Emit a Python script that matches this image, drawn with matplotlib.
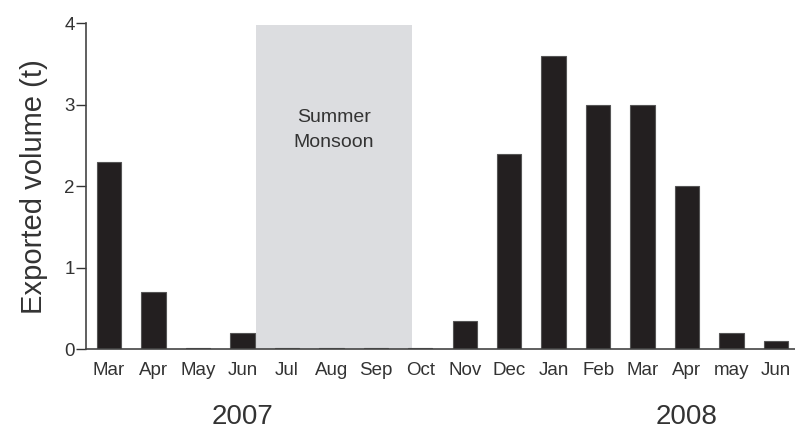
import numpy as np
import matplotlib.pyplot as plt

plt.rcParams['font.family'] = ['Liberation Sans', 'DejaVu Sans']

# monthly exports, Mar 2007 - Jun 2008
months = ['Mar', 'Apr', 'May', 'Jun', 'Jul', 'Aug', 'Sep', 'Oct',
          'Nov', 'Dec', 'Jan', 'Feb', 'Mar', 'Apr', 'may', 'Jun']
volume = [2.3, 0.7, 0.02, 0.2, 0.02, 0.02, 0.02, 0.02,
          0.35, 2.4, 3.6, 3.0, 3.0, 2.0, 0.2, 0.1]
years = ['2007', '2008']
year_pos = [3, 13]
monsoon_span = (3.3, 6.82)
monsoon_top = 3.97

fig = plt.figure(figsize=(7.95, 4.3), dpi=100)
ax = fig.add_axes([86 / 795, (430 - 349.3) / 430, 1 - 86 / 795, (349.3 - 23) / 430])

x = np.arange(len(months))
ax.fill_between(monsoon_span, 0, monsoon_top, color='#dcdde0', linewidth=0, zorder=0)
ax.text(np.mean(monsoon_span), 2.69, 'Summer\nMonsoon', ha='center', va='center',
        fontsize=14, color='#333333', linespacing=1.65)

ax.bar(x, volume, width=0.55, color='#231f20', edgecolor='#555555', linewidth=0.8, zorder=2)

ax.set_xlim(-0.52, 15.43)
ax.set_ylim(0, 4)
ax.set_xticks(x)
ax.set_xticklabels(months, fontsize=13.5, color='#333333')
ax.set_yticks([0, 1, 2, 3, 4])
ax.tick_params(axis='x', length=0, pad=9.5)
ax.tick_params(axis='y', length=7, width=1, color='#333333', labelsize=13.5,
               labelcolor='#333333', pad=1)
for s in ['top', 'right']:
    ax.spines[s].set_visible(False)
for s in ['left', 'bottom']:
    ax.spines[s].set_color('#444444')
    ax.spines[s].set_linewidth(1.2)

ax.set_ylabel('Exported volume (t)', fontsize=21, color='#333333', labelpad=12)

for yr, p in zip(years, year_pos):
    ax.text(p, -0.83, yr, ha='center', va='center', fontsize=20, color='#333333')

fig.savefig('out.png', dpi=100)
